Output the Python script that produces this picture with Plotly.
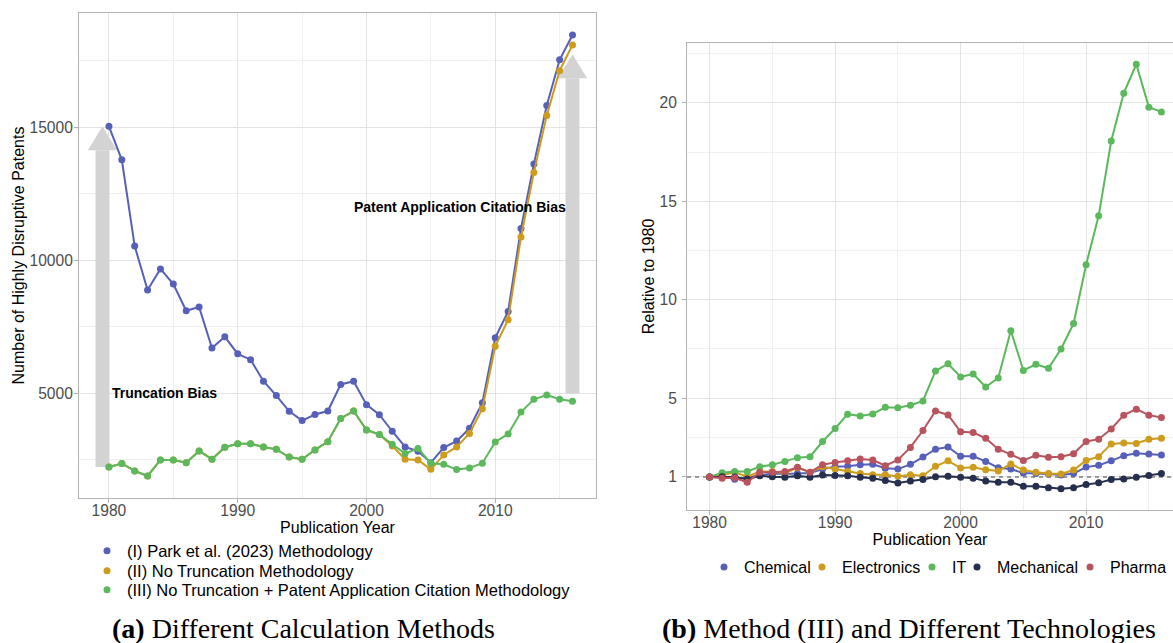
import plotly.graph_objects as go

W, H = 1173, 643

years = list(range(1980, 2017))

# Panel (a): number of highly disruptive patents
park_method = [15040, 13780, 10540, 8890, 9680, 9110, 8110, 8250, 6710, 7130,
               6490, 6270, 5460, 4920, 4330, 3980, 4210, 4340, 5340, 5460,
               4580, 4200, 3580, 2990, 2830, 2400, 2970, 3210, 3690, 4650,
               7090, 8080, 11200, 13620, 15820, 17540, 18470]
no_trunc = [2240, 2370, 2090, 1900, 2500, 2500, 2400, 2840, 2530, 2980,
            3110, 3110, 2990, 2900, 2610, 2530, 2880, 3190, 4060, 4340,
            3630, 3460, 3030, 2530, 2500, 2150, 2690, 2990, 3500, 4430,
            6770, 7770, 10880, 13300, 15450, 17130, 18100]
no_trunc_app = [2240, 2370, 2090, 1900, 2500, 2500, 2400, 2840, 2530, 2980,
                3110, 3110, 2990, 2900, 2610, 2530, 2880, 3190, 4060, 4340,
                3630, 3460, 3090, 2740, 2930, 2380, 2340, 2140, 2200, 2380,
                3180, 3480, 4300, 4780, 4940, 4780, 4710]
series_a_names = ["(I) Park et al. (2023) Methodology",
                  "(II) No Truncation Methodology",
                  "(III) No Truncation + Patent Application Citation Methodology"]

# Panel (b): relative to 1980, method (III)
chemical = [1.00, 1.03, 0.88, 0.98, 1.11, 1.18, 1.15, 1.18, 1.20, 1.40,
            1.52, 1.55, 1.62, 1.64, 1.44, 1.40, 1.64, 2.01, 2.41, 2.52,
            2.05, 2.05, 1.79, 1.47, 1.40, 1.20, 1.18, 1.15, 1.10, 1.18,
            1.50, 1.59, 1.82, 2.08, 2.20, 2.16, 2.11]
electronics = [1.00, 1.10, 1.24, 1.01, 1.28, 1.28, 1.18, 1.47, 1.24, 1.52,
               1.40, 1.28, 1.18, 1.11, 1.11, 1.03, 1.11, 1.06, 1.54, 1.82,
               1.45, 1.49, 1.37, 1.30, 1.66, 1.35, 1.24, 1.18, 1.15, 1.35,
               1.84, 2.03, 2.68, 2.72, 2.70, 2.91, 2.97]
it = [1.00, 1.22, 1.28, 1.28, 1.52, 1.62, 1.79, 1.98, 2.03, 2.80,
      3.46, 4.19, 4.09, 4.20, 4.54, 4.51, 4.64, 4.86, 6.38, 6.75,
      6.08, 6.23, 5.57, 6.03, 8.43, 6.41, 6.72, 6.52, 7.50, 8.79,
      11.78, 14.26, 18.06, 20.49, 21.96, 19.78, 19.54]
mechanical = [1.00, 1.01, 1.00, 0.89, 1.06, 1.01, 0.98, 1.06, 0.99, 1.10,
              1.08, 1.06, 0.99, 0.93, 0.82, 0.69, 0.79, 0.87, 1.01, 1.04,
              0.99, 0.94, 0.79, 0.73, 0.73, 0.53, 0.53, 0.45, 0.40, 0.45,
              0.62, 0.70, 0.87, 0.89, 0.99, 1.08, 1.18]
pharma = [1.00, 0.93, 0.96, 0.73, 1.24, 1.24, 1.28, 1.49, 1.24, 1.62,
          1.74, 1.82, 1.91, 1.86, 1.57, 1.86, 2.50, 3.36, 4.35, 4.15,
          3.29, 3.26, 2.96, 2.41, 2.15, 1.84, 2.10, 2.00, 2.03, 2.18,
          2.80, 2.92, 3.44, 4.14, 4.44, 4.14, 4.02]
tech_names = ["Chemical", "Electronics", "IT", "Mechanical", "Pharma"]

y_ticks_a = [5000, 10000, 15000]
y_ticks_b = [1, 5, 10, 15, 20]
x_ticks = [1980, 1990, 2000, 2010]
baseline_b = 1

# annotation positions (data units)
truncation_label = (1984.3, 5000, "Truncation Bias")
citation_label = (2007.3, 12000, "Patent Application Citation Bias")
left_arrow_x = 1979.5
right_arrow = (2016, 5000, 17750)

colors = ["#5760B8", "#CD9B1D", "#5CB85C", "#262F4D", "#B9545E"]
FONT = "Liberation Sans"
TICK_COLOR = "#4d4d4d"
GRID = "#e3e3e3"
MINOR_GRID = "#f0f0f0"
BORDER = "#b3b3b3"

fig = go.Figure()

series_a = [park_method, no_trunc, no_trunc_app]
for i, (name, vals) in enumerate(zip(series_a_names, series_a)):
    fig.add_trace(go.Scatter(x=years, y=vals, mode="lines+markers", name=name,
                             line=dict(color=colors[i], width=2),
                             marker=dict(color=colors[i], size=7),
                             xaxis="x", yaxis="y", showlegend=False))
series_b = [chemical, electronics, it, mechanical, pharma]
for i, (name, vals) in enumerate(zip(tech_names, series_b)):
    fig.add_trace(go.Scatter(x=years, y=vals, mode="lines+markers", name=name,
                             line=dict(color=colors[i], width=2),
                             marker=dict(color=colors[i], size=7),
                             xaxis="x2", yaxis="y2", showlegend=False))

# legend entries (one legend per entry for precise placement)
legend_a_text_px = [(127, 551), (127, 571), (127, 590)]
legend_b_text_px = [(744, 567), (842, 567), (952, 567), (997, 567), (1110, 567)]
entries = [(n, colors[i], "x", "y", 16.5) for i, n in enumerate(series_a_names)] + \
          [(n, colors[i], "x2", "y2", 16) for i, n in enumerate(tech_names)]
positions = legend_a_text_px + legend_b_text_px
legend_layouts = {}
for k, ((name, col, xa, ya, fs), (px, py)) in enumerate(zip(entries, positions)):
    lname = "legend" if k == 0 else f"legend{k+1}"
    fig.add_trace(go.Scatter(x=[None], y=[None], mode="markers", name=name,
                             marker=dict(color=col, size=7),
                             xaxis=xa, yaxis=ya, legend=lname, showlegend=True))
    legend_layouts[lname] = dict(x=(px - 40) / W, y=1 - py / H,
                                 xanchor="left", yanchor="middle",
                                 bgcolor="rgba(0,0,0,0)", borderwidth=0,
                                 font=dict(family=FONT, size=fs, color="black"),
                                 itemwidth=30)

# ranges
all_a = park_method + no_trunc + no_trunc_app
lo_a, hi_a = min(all_a), max(all_a)
pad_a = 0.05 * (hi_a - lo_a)
xa_lo, xa_hi = left_arrow_x, years[-1]
pad_xa = 0.05 * (xa_hi - xa_lo)

all_b = chemical + electronics + it + mechanical + pharma
lo_b, hi_b = min(all_b), max(all_b)
pad_b = 0.05 * (hi_b - lo_b)
pad_xb = 0.05 * (years[-1] - years[0])
xb_lo = years[0] - pad_xb
px_per_year_b = (1184 - 687) / ((years[-1] + pad_xb) - xb_lo)
xb_hi = xb_lo + (W - 687) / px_per_year_b

axis_common = dict(showgrid=True, gridcolor=GRID, gridwidth=1, zeroline=False,
                   showline=True, linecolor=BORDER, linewidth=1,
                   ticks="outside", ticklen=4, tickcolor=BORDER, tickwidth=1,
                   tickfont=dict(family=FONT, size=15.6, color=TICK_COLOR))
TITLE_FONT = dict(family=FONT, size=16, color="black")

fig.update_layout(
    width=W, height=H, margin=dict(l=0, r=0, t=0, b=0),
    paper_bgcolor="white", plot_bgcolor="white",
    font=dict(family=FONT),
    xaxis=dict(domain=[79 / W, 596 / W], range=[xa_lo - pad_xa, xa_hi + pad_xa],
               tickvals=x_ticks, mirror=True, ticklabelstandoff=-6,
               minor=dict(showgrid=True, gridcolor=MINOR_GRID, gridwidth=1, dtick=5, tick0=1975),
               title=dict(text="Publication Year", standoff=0, font=TITLE_FONT),
               anchor="y", **axis_common),
    yaxis=dict(domain=[1 - 498 / H, 1 - 13 / H], range=[lo_a - pad_a, hi_a + pad_a],
               tickvals=y_ticks_a, tickformat="d", mirror=True, ticklabelstandoff=-2,
               minor=dict(showgrid=True, gridcolor=MINOR_GRID, gridwidth=1, dtick=2500, tick0=0),
               title=dict(text="Number of Highly Disruptive Patents", standoff=0, font=TITLE_FONT),
               anchor="x", **axis_common),
    xaxis2=dict(domain=[687 / W, 1.0], range=[xb_lo, xb_hi],
                tickvals=x_ticks, mirror=True, ticklabelstandoff=-6,
                minor=dict(showgrid=True, gridcolor=MINOR_GRID, gridwidth=1, dtick=5, tick0=1975),
                title=dict(text="Publication Year", standoff=0, font=TITLE_FONT),
                anchor="y2", **axis_common),
    yaxis2=dict(domain=[1 - 510 / H, 1 - 43 / H], range=[lo_b - pad_b, hi_b + pad_b],
                tickvals=y_ticks_b, mirror=False, ticklabelstandoff=2,
                minor=dict(showgrid=True, gridcolor=MINOR_GRID, gridwidth=1,
                           tickmode="array", tickvals=[3, 7.5, 12.5, 17.5, 22.5]),
                title=dict(text="Relative to 1980", standoff=0, font=TITLE_FONT),
                anchor="x2", **axis_common),
    **legend_layouts,
)

# arrows (panel a), built from data values
ARROW_COLOR = "#d3d3d3"
shaft_half = 0.54
head_half = 1.13
head_len = 900


def add_arrow(x, y0, y1):
    fig.add_shape(type="rect", xref="x", yref="y", x0=x - shaft_half, x1=x + shaft_half,
                  y0=y0, y1=y1 - head_len, fillcolor=ARROW_COLOR, line=dict(width=0),
                  layer="between")
    fig.add_shape(type="path", xref="x", yref="y",
                  path=f"M {x - head_half},{y1 - head_len} L {x},{y1} L {x + head_half},{y1 - head_len} Z",
                  fillcolor=ARROW_COLOR, line=dict(width=0), layer="between")


add_arrow(left_arrow_x, no_trunc_app[0], park_method[0])
add_arrow(*right_arrow)

for (xv, yv, txt) in [truncation_label, citation_label]:
    fig.add_annotation(x=xv, y=yv, xref="x", yref="y", text=f"<b>{txt}</b>",
                       showarrow=False, font=dict(family=FONT, size=14, color="black"))

# reference line at 1 (panel b)
fig.add_shape(type="line", xref="x2", yref="y2", x0=xb_lo, x1=xb_hi,
              y0=baseline_b, y1=baseline_b,
              line=dict(color="#7f7f7f", width=1.5, dash="4px,4px"), layer="between")

# captions
CAP_FONT = dict(family="Liberation Serif", size=28, color="black")
fig.add_annotation(x=303.5 / W, y=1 - 628 / H, xref="paper", yref="paper",
                   text="<b>(a)</b> Different Calculation Methods", showarrow=False,
                   xanchor="center", yanchor="middle", font=CAP_FONT)
fig.add_annotation(x=660 / W, y=1 - 628 / H, xref="paper", yref="paper",
                   text="<b>(b)</b> Method (III) and Different Technologies", showarrow=False,
                   xanchor="left", yanchor="middle", font=CAP_FONT)

fig.write_html("out.html", config={"displayModeBar": False},
               post_script="document.body.style.margin='0';")
